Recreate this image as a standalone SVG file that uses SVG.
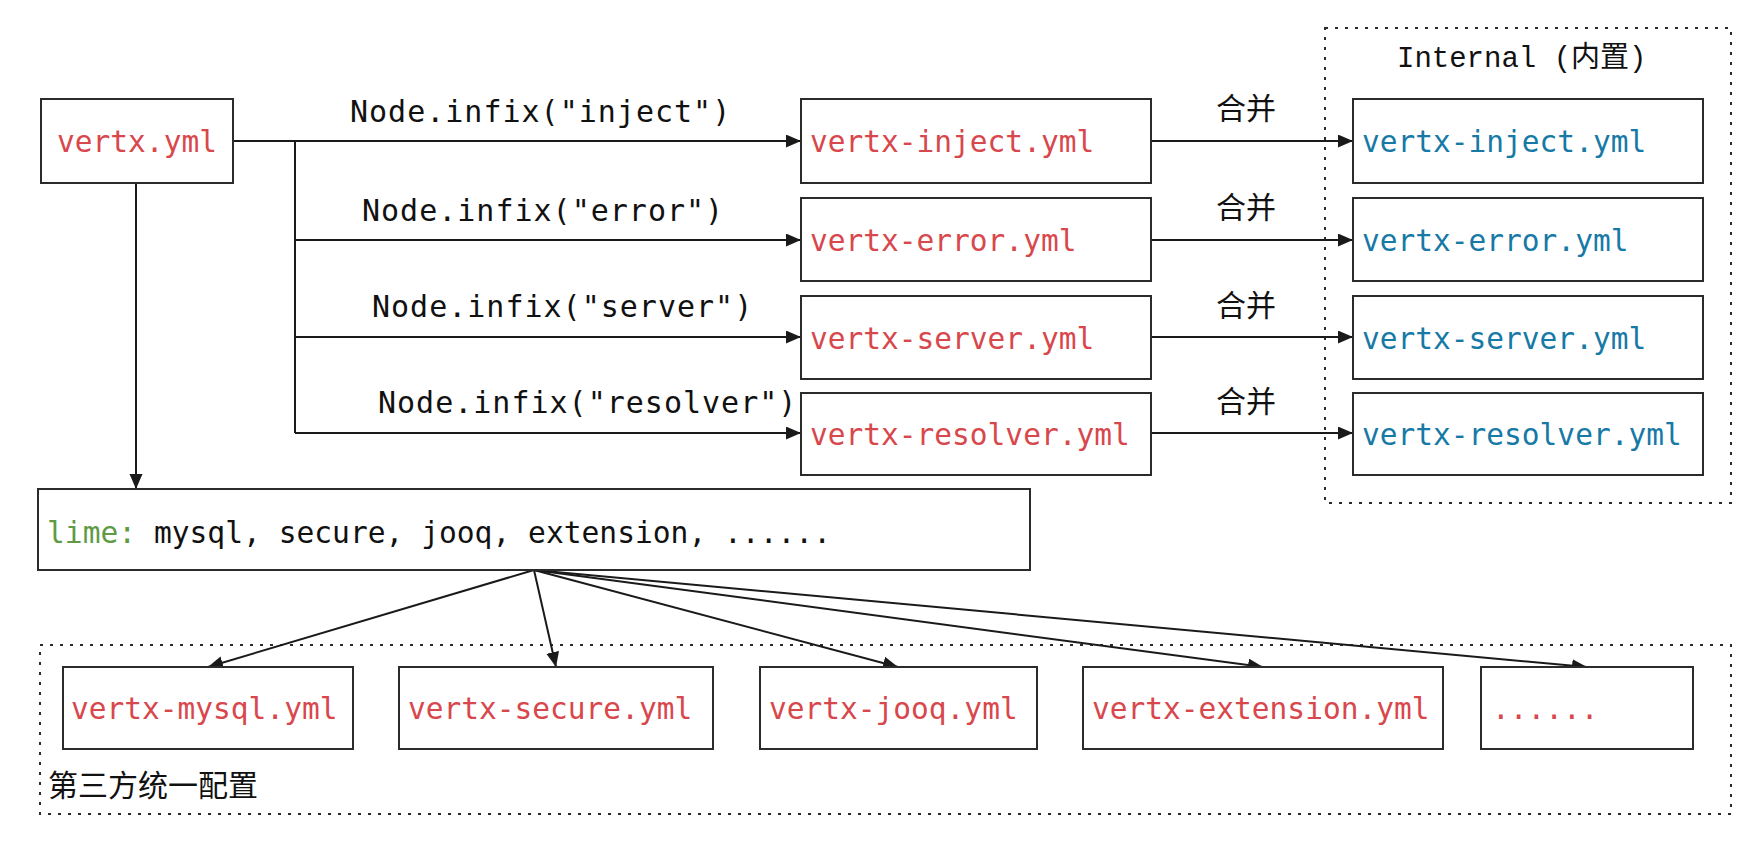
<svg xmlns="http://www.w3.org/2000/svg" width="1762" height="854" viewBox="0 0 1762 854">
<style>
.bg{fill:#ffffff}
.box{fill:#ffffff;stroke:#2b2b2b;stroke-width:2}
.grp{fill:none;stroke:#2b2b2b;stroke-width:2;stroke-dasharray:3 7}
.conn{fill:none;stroke:#1a1a1a;stroke-width:2}
.mono{font-family:"DejaVu Sans Mono","Liberation Mono",monospace;font-size:29.5px}
.red{fill:#d8474c}
.blue{fill:#1679a6}
.lbl{font-family:"DejaVu Sans Mono","Liberation Mono",monospace;font-size:30px;fill:#111111;letter-spacing:1px}
.cjk{font-family:"Noto Sans CJK SC","Noto Sans",sans-serif;font-size:30px;fill:#111111}
</style>
<defs>
<marker id="arr" markerUnits="userSpaceOnUse" markerWidth="16" markerHeight="14" refX="15" refY="6.5" orient="auto">
<path d="M0,0 L15,6.5 L0,13 Z" fill="#1a1a1a"/>
</marker>
</defs>
<rect class="bg" x="0" y="0" width="1762" height="854"/>

<g id="group-internal">
<rect class="grp" x="1325" y="28" width="406" height="475"/>
<text x="1397" y="67" style="font-family:'Liberation Mono','Noto Sans CJK SC',monospace;font-size:29px;fill:#111">Internal (内置)</text>
</g>
<g id="group-thirdparty">
<rect class="grp" x="40" y="645" width="1691" height="169"/>
<text class="cjk" x="48" y="796">第三方统一配置</text>
</g>

<g id="connectors">
<path class="conn" d="M233,141 H801" marker-end="url(#arr)"/>
<path class="conn" d="M295,141 V433"/>
<path class="conn" d="M295,240 H801" marker-end="url(#arr)"/>
<path class="conn" d="M295,337 H801" marker-end="url(#arr)"/>
<path class="conn" d="M295,433 H801" marker-end="url(#arr)"/>
<path class="conn" d="M1151,141 H1353" marker-end="url(#arr)"/>
<path class="conn" d="M1151,240 H1353" marker-end="url(#arr)"/>
<path class="conn" d="M1151,337 H1353" marker-end="url(#arr)"/>
<path class="conn" d="M1151,433 H1353" marker-end="url(#arr)"/>
<path class="conn" d="M136,183 V489" marker-end="url(#arr)"/>
<path class="conn" d="M534,570 L208,667" marker-end="url(#arr)"/>
<path class="conn" d="M534,570 L556,667" marker-end="url(#arr)"/>
<path class="conn" d="M534,570 L898,667" marker-end="url(#arr)"/>
<path class="conn" d="M534,570 L1263,667" marker-end="url(#arr)"/>
<path class="conn" d="M534,570 L1587,667" marker-end="url(#arr)"/>
<text class="lbl" x="350" y="122">Node.infix(&quot;inject&quot;)</text>
<text class="lbl" x="362" y="221">Node.infix(&quot;error&quot;)</text>
<text class="lbl" x="372" y="317">Node.infix(&quot;server&quot;)</text>
<text class="lbl" x="378" y="413">Node.infix(&quot;resolver&quot;)</text>
<text class="cjk" x="1216" y="119">合并</text>
<text class="cjk" x="1216" y="218">合并</text>
<text class="cjk" x="1216" y="316">合并</text>
<text class="cjk" x="1216" y="412">合并</text>
</g>

<g id="node-vertx">
<rect class="box" x="41" y="99" width="192" height="84"/>
<text class="mono red" x="137" y="152" text-anchor="middle">vertx.yml</text>
</g>

<g id="node-inject">
<rect class="box" x="801" y="99" width="350" height="84"/>
<text class="mono red" x="810" y="152">vertx-inject.yml</text>
</g>
<g id="node-error">
<rect class="box" x="801" y="198" width="350" height="83"/>
<text class="mono red" x="810" y="251">vertx-error.yml</text>
</g>
<g id="node-server">
<rect class="box" x="801" y="296" width="350" height="83"/>
<text class="mono red" x="810" y="349">vertx-server.yml</text>
</g>
<g id="node-resolver">
<rect class="box" x="801" y="393" width="350" height="82"/>
<text class="mono red" x="810" y="445">vertx-resolver.yml</text>
</g>

<g id="node-int-inject">
<rect class="box" x="1353" y="99" width="350" height="84"/>
<text class="mono blue" x="1362" y="152">vertx-inject.yml</text>
</g>
<g id="node-int-error">
<rect class="box" x="1353" y="198" width="350" height="83"/>
<text class="mono blue" x="1362" y="251">vertx-error.yml</text>
</g>
<g id="node-int-server">
<rect class="box" x="1353" y="296" width="350" height="83"/>
<text class="mono blue" x="1362" y="349">vertx-server.yml</text>
</g>
<g id="node-int-resolver">
<rect class="box" x="1353" y="393" width="350" height="82"/>
<text class="mono blue" x="1362" y="445">vertx-resolver.yml</text>
</g>

<g id="node-lime">
<rect class="box" x="38" y="489" width="992" height="81"/>
<text x="47" y="543" style="font-family:'DejaVu Sans Mono','Liberation Mono',monospace;font-size:29.6px;fill:#111"><tspan fill="#5f9a44">lime:</tspan> mysql, secure, jooq, extension, ......</text>
</g>

<g id="node-mysql">
<rect class="box" x="63" y="667" width="290" height="82"/>
<text class="mono red" x="71" y="719">vertx-mysql.yml</text>
</g>
<g id="node-secure">
<rect class="box" x="399" y="667" width="314" height="82"/>
<text class="mono red" x="408" y="719">vertx-secure.yml</text>
</g>
<g id="node-jooq">
<rect class="box" x="760" y="667" width="277" height="82"/>
<text class="mono red" x="769" y="719">vertx-jooq.yml</text>
</g>
<g id="node-extension">
<rect class="box" x="1083" y="667" width="360" height="82"/>
<text class="mono red" x="1092" y="719">vertx-extension.yml</text>
</g>
<g id="node-more">
<rect class="box" x="1481" y="667" width="212" height="82"/>
<text class="mono red" x="1492" y="719">......</text>
</g>
</svg>
